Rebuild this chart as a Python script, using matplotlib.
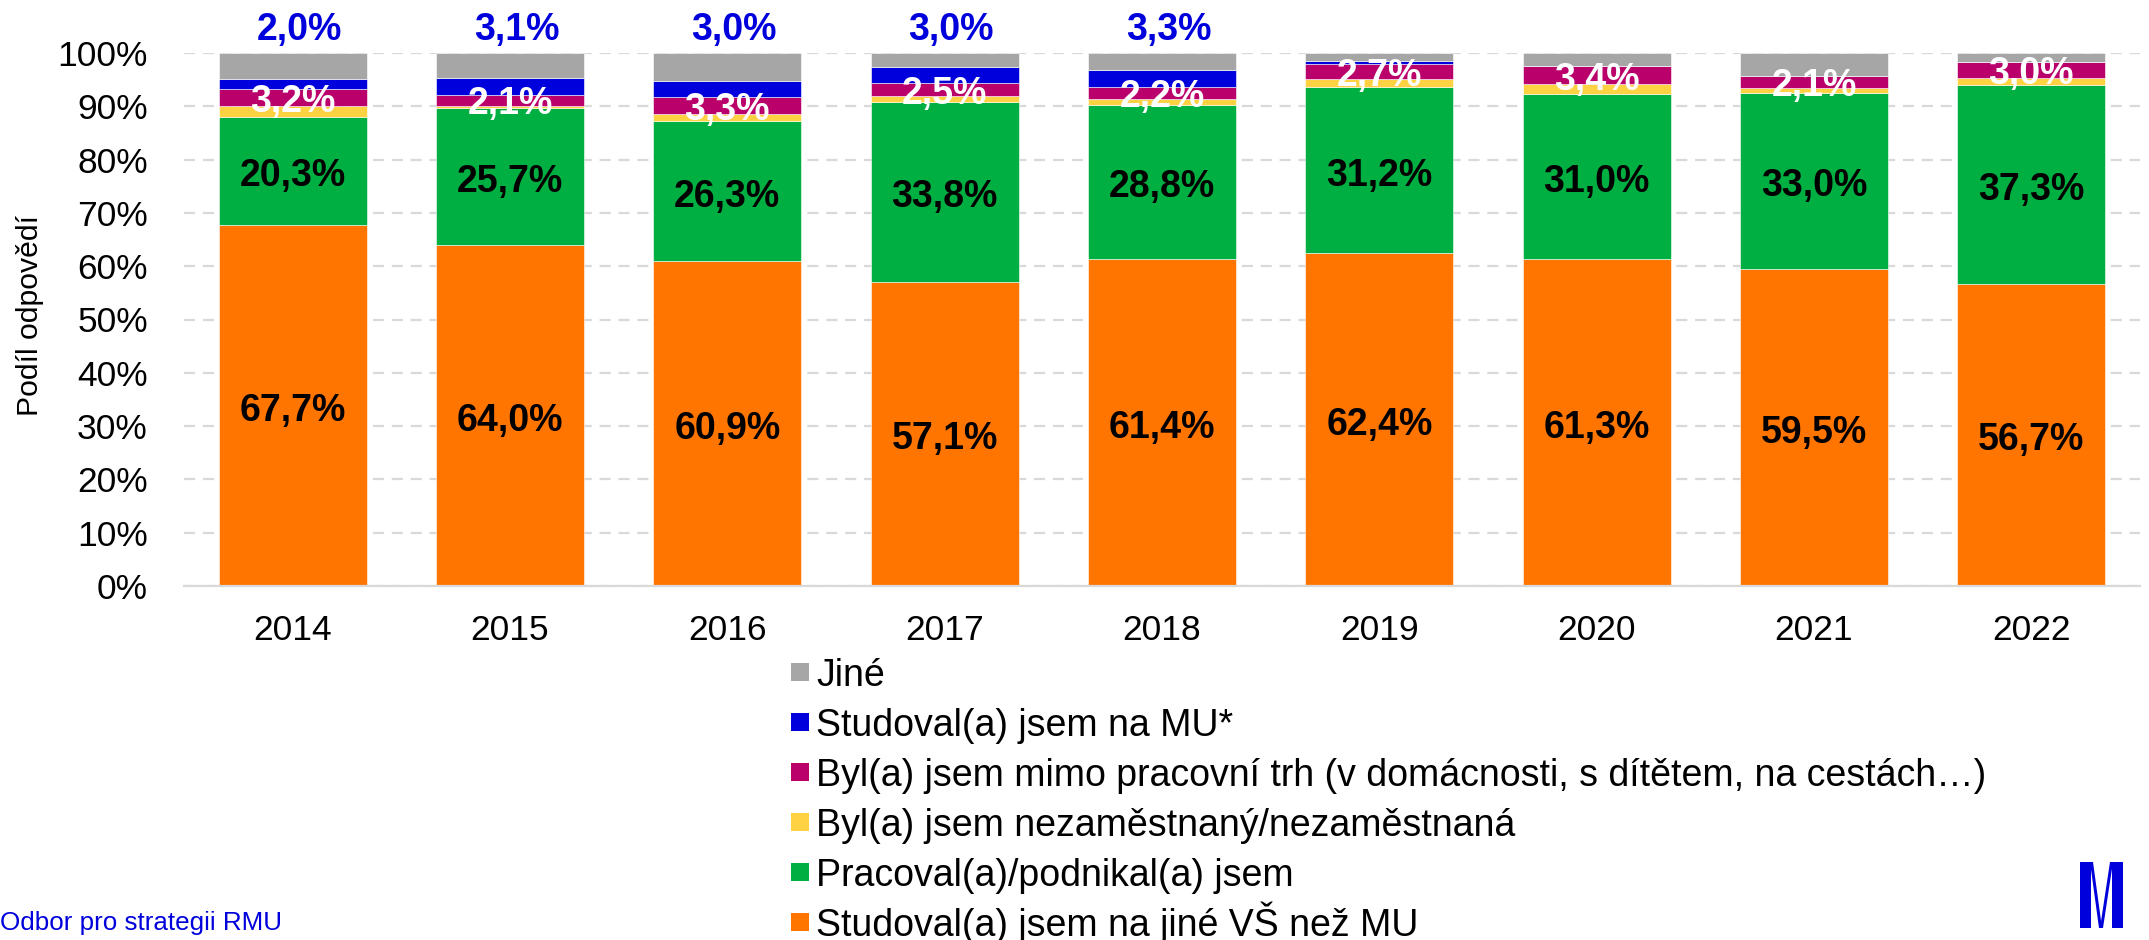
import matplotlib
matplotlib.use("Agg")
import matplotlib.pyplot as plt
from matplotlib.patches import Polygon, Rectangle
import numpy as np

plt.rcParams['font.family'] = ['Liberation Sans', 'DejaVu Sans']

years = ["2014", "2015", "2016", "2017", "2018", "2019", "2020", "2021", "2022"]
studoval_jine = [67.7, 64.0, 60.9, 57.1, 61.4, 62.4, 61.3, 59.5, 56.7]
pracoval = [20.3, 25.7, 26.3, 33.8, 28.8, 31.2, 31.0, 33.0, 37.3]
nezamestnany = [2.0, 0.4, 1.3, 1.0, 1.2, 1.6, 1.8, 1.0, 1.4]
mimo_trh = [3.2, 2.1, 3.3, 2.5, 2.2, 2.7, 3.4, 2.1, 3.0]
studoval_mu = [2.0, 3.1, 3.0, 3.0, 3.3, 0.6, 0.0, 0.0, 0.0]
jine = [4.8, 4.7, 5.2, 2.6, 3.1, 1.5, 2.5, 4.4, 1.6]

series_names = [
    "Studoval(a) jsem na jiné VŠ než MU",
    "Pracoval(a)/podnikal(a) jsem",
    "Byl(a) jsem nezaměstnaný/nezaměstnaná",
    "Byl(a) jsem mimo pracovní trh (v domácnosti, s dítětem, na cestách…)",
    "Studoval(a) jsem na MU*",
    "Jiné",
]
colors = ["#FF7500", "#00AF41", "#FFD243", "#B9006B", "#0000DC", "#A6A6A6"]
series = [studoval_jine, pracoval, nezamestnany, mimo_trh, studoval_mu, jine]

W, H = 2149, 940
fig = plt.figure(figsize=(W / 100, H / 100), dpi=100)
ax = fig.add_axes([184 / W, 1 - 586 / H, (2140 - 184) / W, (586 - 53) / H])

x = np.arange(len(years))
bw = 0.68
bottom = np.zeros(len(years))
for vals, col in zip(series, colors):
    v = np.array(vals)
    ax.bar(x, v, bw, bottom=bottom, color=col, edgecolor='white', linewidth=0.4, zorder=2)
    bottom = bottom + v

def fmt(v):
    return f"{v:.1f}%".replace('.', ',')

fs = 27
b0 = np.array(studoval_jine)
b1 = b0 + np.array(pracoval)
b2 = b1 + np.array(nezamestnany)
for i in range(len(years)):
    ax.text(x[i], b0[i] / 2 - 1.0, fmt(studoval_jine[i]), ha='center', va='center',
            fontsize=fs, fontweight='bold', color='black', zorder=3)
    ax.text(x[i], b0[i] + pracoval[i] / 2 - 1.0, fmt(pracoval[i]), ha='center', va='center',
            fontsize=fs, fontweight='bold', color='black', zorder=3)
    ax.text(x[i], b2[i] + mimo_trh[i] / 2 - 0.8, fmt(mimo_trh[i]), ha='center', va='center',
            fontsize=fs, fontweight='bold', color='white', zorder=3)
    if studoval_mu[i] >= 1.0:
        ax.text(x[i] + 0.03, 102.4, fmt(studoval_mu[i]), ha='center', va='baseline',
                fontsize=fs, fontweight='bold', color='#0000DC', zorder=3, clip_on=False)

ax.set_xlim(-0.5, len(years) - 0.5)
ax.set_ylim(0, 100)
ax.set_yticks(np.arange(0, 101, 10))
ax.set_yticklabels([f"{t}%" for t in range(0, 101, 10)])
ax.set_xticks(x)
ax.set_xticklabels(years)
ax.tick_params(axis='y', length=0, pad=26, labelsize=25.5)
ax.tick_params(axis='x', length=0, pad=20, labelsize=25.5)
ax.yaxis.grid(True, linestyle=(0, (5, 3.5)), color='#D9D9D9', linewidth=1.6, zorder=0)
ax.set_axisbelow(True)
for s in ['top', 'right', 'left']:
    ax.spines[s].set_visible(False)
ax.spines['bottom'].set_color('#D9D9D9')
ax.spines['bottom'].set_linewidth(1.6)

fig.text(30 / W, 1 - 315 / H, "Podíl odpovědí", rotation=90, ha='center', va='center', fontsize=21.7)

# legend (reverse order, drawn as evenly spaced entries)
def px(xp, yp):
    return (xp / W, 1 - yp / H)

leg_names = series_names[::-1]
leg_cols = colors[::-1]
sq = 18
for k, (name, col) in enumerate(zip(leg_names, leg_cols)):
    cy = 672 + 50 * k
    fig.patches.append(Rectangle(px(791, cy + sq / 2), sq / W, sq / H, transform=fig.transFigure,
                                 facecolor=col, edgecolor='none'))
    fig.text(816 / W, 1 - (cy + 13.5) / H, name, fontsize=27, ha='left', va='baseline', color='black')

fig.text(0 / W, 1 - 930 / H, "Odbor pro strategii RMU", color='#0000DC', fontsize=18.7,
         ha='left', va='baseline')

# MU logo
logo_col = '#0000DC'
top, bot = 862, 928
for poly in [
    [(2080, top), (2091, top), (2091, bot), (2080, bot)],
    [(2112, top), (2123, top), (2123, bot), (2112, bot)],
    [(2090, top), (2093, top), (2102, bot), (2099, bot)],
    [(2110, top), (2113, top), (2103, bot), (2100, bot)],
]:
    fig.patches.append(Polygon([px(a, b) for a, b in poly], closed=True, transform=fig.transFigure,
                               facecolor=logo_col, edgecolor='none'))

fig.savefig("out.png", dpi=100)
